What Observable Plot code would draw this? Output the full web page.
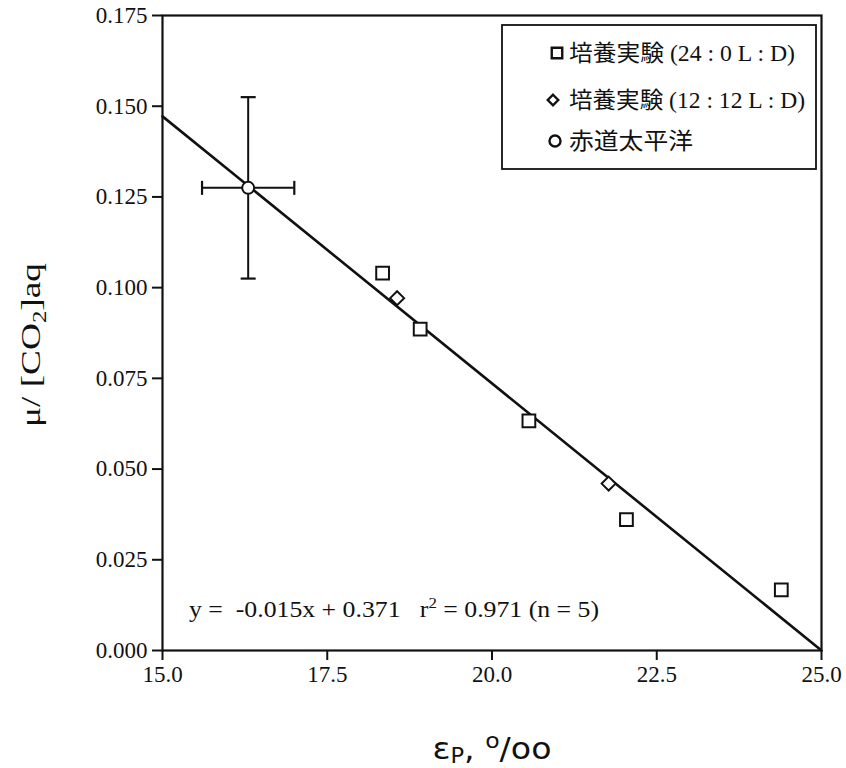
<!DOCTYPE html>
<html>
<head>
<meta charset="utf-8">
<script src="https://cdn.jsdelivr.net/npm/d3@7"></script>
<script src="https://cdn.jsdelivr.net/npm/@observablehq/plot@0.6"></script>
<style>
  html, body { margin: 0; padding: 0; background: #fff; }
  #chart { width: 846px; height: 768px; }
</style>
</head>
<body>
<div id="chart"></div>
<script>
// ---- data ----
const cult24X = [18.34, 18.91, 20.56, 22.04, 24.39];
const cult24Y = [0.1040, 0.0886, 0.0633, 0.0361, 0.0167];
const cult12X = [18.56, 21.77];
const cult12Y = [0.0971, 0.0460];
const pacX = [16.30];
const pacY = [0.1275];
const pacErrX = [0.70];
const pacErrY = [0.025];
const fitX = [15.0, 25.0];
const fitY = [0.1472, 0.0];
const xTicks = [15.0, 17.5, 20.0, 22.5, 25.0];
const yTicks = [0.000, 0.025, 0.050, 0.075, 0.100, 0.125, 0.150, 0.175];
const legendLabels = ["培養実験 (24 : 0 L : D)", "培養実験 (12 : 12 L : D)", "赤道太平洋"];
const equationText = "y =  -0.015x + 0.371   r";
const equationText2 = " = 0.971 (n = 5)";

// ---- tables ----
const cult24 = cult24X.map((x, i) => ({x, y: cult24Y[i]}));
const cult12 = cult12X.map((x, i) => ({x, y: cult12Y[i]}));
const pac = pacX.map((x, i) => ({x, y: pacY[i], ex: pacErrX[i], ey: pacErrY[i]}));
const fit = fitX.map((x, i) => ({x, y: fitY[i]}));

// cap symbols for error bars
const capH = { draw(ctx, size) { const w = 7.5; ctx.moveTo(-w, 0); ctx.lineTo(w, 0); } };
const capV = { draw(ctx, size) { const h = 7; ctx.moveTo(0, -h); ctx.lineTo(0, h); } };

const serif = "Liberation Serif";

const plot = Plot.plot({
  width: 846,
  height: 768,
  marginLeft: 162,
  marginRight: 25,
  marginTop: 15,
  marginBottom: 118,
  style: { fontFamily: serif, fontSize: "23px", color: "#111", background: "#fff" },
  x: { domain: [15, 25], label: null },
  y: { domain: [0, 0.175], label: null },
  marks: [
    Plot.frame({ stroke: "#111", strokeWidth: 2.2 }),
    Plot.axisX({ ticks: xTicks, tickFormat: d => d.toFixed(1), tickSize: 10, tickPadding: 5, strokeWidth: 2, fontSize: 23, fontFamily: serif, fill: "#111", label: null }),
    Plot.axisY({ ticks: yTicks, tickFormat: d => d.toFixed(3), tickSize: 10, tickPadding: 5, strokeWidth: 2, fontSize: 23, fontFamily: serif, fill: "#111", label: null }),
    Plot.line(fit, { x: "x", y: "y", stroke: "#111", strokeWidth: 2.6 }),
    // error bars
    Plot.ruleX(pac, { x: "x", y1: d => d.y + d.ey, y2: d => d.y - d.ey, stroke: "#111", strokeWidth: 2 }),
    Plot.ruleY(pac, { y: "y", x1: d => d.x - d.ex, x2: d => d.x + d.ex, stroke: "#111", strokeWidth: 2 }),
    Plot.dot(pac, { x: "x", y: d => d.y + d.ey, symbol: capH, stroke: "#111", strokeWidth: 2.2, r: 5 }),
    Plot.dot(pac, { x: "x", y: d => d.y - d.ey, symbol: capH, stroke: "#111", strokeWidth: 2.2, r: 5 }),
    Plot.dot(pac, { x: d => d.x - d.ex, y: "y", symbol: capV, stroke: "#111", strokeWidth: 2.2, r: 5 }),
    Plot.dot(pac, { x: d => d.x + d.ex, y: "y", symbol: capV, stroke: "#111", strokeWidth: 2.2, r: 5 }),
    // points
    Plot.dot(pac, { x: "x", y: "y", symbol: "circle", r: 6, fill: "#fff", stroke: "#111", strokeWidth: 2 }),
    Plot.dot(cult24, { x: "x", y: "y", symbol: "square", r: 7.2, fill: "#fff", stroke: "#111", strokeWidth: 2 }),
    Plot.dot(cult12, { x: "x", y: "y", symbol: "diamond2", r: 6.3, fill: "#fff", stroke: "#111", strokeWidth: 2 })
  ]
});

document.getElementById("chart").appendChild(plot);

// ---- extra text and legend, drawn into the same SVG ----
const svg = d3.select(plot);

// equation
const eq = svg.append("text")
  .attr("x", 189).attr("y", 617)
  .attr("text-anchor", "start")
  .attr("font-family", serif).attr("font-size", 23).attr("fill", "#111")
  .attr("textLength", 410).attr("lengthAdjust", "spacingAndGlyphs");
eq.append("tspan").text(equationText);
eq.append("tspan").attr("dy", -9).attr("font-size", 15).text("2");
eq.append("tspan").attr("dy", 9).text(equationText2);

// y-axis label
const yl = svg.append("text")
  .attr("transform", "translate(40,345) rotate(-90)")
  .attr("text-anchor", "middle")
  .attr("font-family", serif).attr("font-size", 27).attr("fill", "#111")
  .attr("textLength", 164).attr("lengthAdjust", "spacingAndGlyphs");
yl.append("tspan").text("μ/ [CO");
yl.append("tspan").attr("dy", 6).attr("font-size", 18).text("2");
yl.append("tspan").attr("dy", -6).text("]aq");

// x-axis label
const xl = svg.append("text")
  .attr("x", 492).attr("y", 759)
  .attr("text-anchor", "middle")
  .attr("font-family", "DejaVu Sans").attr("font-size", 31).attr("fill", "#111")
  .attr("textLength", 119).attr("lengthAdjust", "spacingAndGlyphs");
xl.append("tspan").text("ε");
xl.append("tspan").attr("dy", 4).attr("font-size", 21).text("P");
xl.append("tspan").attr("dy", -4).text(", ");
xl.append("tspan").attr("dy", -11).attr("font-size", 22).text("o");
xl.append("tspan").attr("dy", 11).text("/oo");

// legend
const lg = svg.append("g");
lg.append("rect").attr("x", 502).attr("y", 25).attr("width", 314).attr("height", 144)
  .attr("fill", "#fff").attr("stroke", "#111").attr("stroke-width", 1.8);
const rows = [
  { y: 53, sym: d3.symbolSquare, size: 110, sx: 557, len: 226 },
  { y: 100, sym: d3.symbolDiamond2, size: 70, sx: 553, len: 236 },
  { y: 141, sym: d3.symbolCircle, size: 95, sx: 555, len: 124 }
];
rows.forEach((r, i) => {
  lg.append("path").attr("d", d3.symbol(r.sym, r.size)())
    .attr("transform", `translate(${r.sx},${r.y})`)
    .attr("fill", "#fff").attr("stroke", "#111").attr("stroke-width", 2.4);
  lg.append("text").attr("x", 569).attr("y", r.y).attr("dy", "0.36em")
    .attr("text-anchor", "start")
    .attr("font-family", "'Liberation Serif', 'Noto Sans CJK JP', serif")
    .attr("font-size", 23).attr("fill", "#111")
    .attr("textLength", r.len).attr("lengthAdjust", "spacingAndGlyphs")
    .text(legendLabels[i]);
});
</script>
</body>
</html>
